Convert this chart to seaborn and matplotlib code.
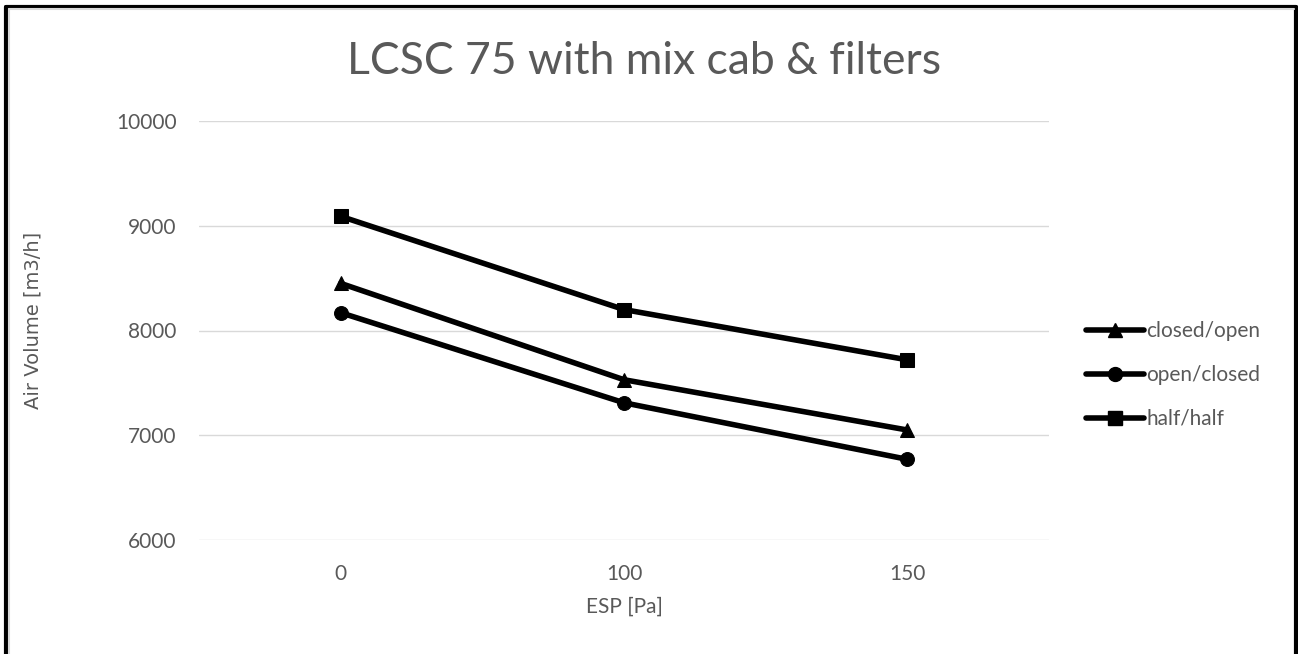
import matplotlib
matplotlib.use("Agg")
import matplotlib.pyplot as plt
import seaborn as sns
import pandas as pd
from matplotlib.lines import Line2D

esp = ["0", "100", "150"]
closed_open = [8450, 7530, 7050]
open_closed = [8170, 7310, 6770]
half_half = [9090, 8200, 7720]
series_names = ["closed/open", "open/closed", "half/half"]
yticks = [6000, 7000, 8000, 9000, 10000]

sns.set_theme(style="white")
plt.rcParams['font.family'] = ['Lato', 'DejaVu Sans']

rows = []
for name, vals in zip(series_names, [closed_open, open_closed, half_half]):
    for x, v in zip(esp, vals):
        rows.append({"ESP": x, "Air": v, "series": name})
df = pd.DataFrame(rows)

fig = plt.figure(figsize=(12.98, 6.54), dpi=100)
ax = fig.add_axes([199/1298, 1-540/654, 850/1298, 419/654])

gray = "#595959"
for y in yticks:
    ax.axhline(y, color="#d9d9d9", lw=1, zorder=0)

sns.lineplot(data=df, x="ESP", y="Air", hue="series", style="series",
             palette=["black"]*3, markers={"closed/open": "^", "open/closed": "o", "half/half": "s"},
             dashes=False, lw=4, markersize=10, markeredgecolor="black",
             ax=ax, legend=False, sort=False)

ax.set_xlim(-0.5, 2.5)
ax.set_ylim(6000, 10000)
ax.set_yticks(yticks)
ax.set_yticklabels([str(t) for t in yticks])
for s in ax.spines.values():
    s.set_visible(False)
ax.tick_params(axis="x", length=0, labelsize=15, colors=gray, pad=17)
ax.tick_params(axis="y", length=0, labelsize=15, colors=gray, pad=16)
ax.set_xlabel("ESP [Pa]", fontsize=15, color=gray)
ax.xaxis.set_label_coords(0.5, -67/419)
ax.xaxis.label.set_va("center")
ax.set_ylabel("Air Volume [m3/h]", fontsize=14, color=gray, family="DejaVu Sans")
ax.yaxis.set_label_coords(-166/850, 220/419)
ax.yaxis.label.set_va("center")

fig.text(644/1298, 1-62/654, "LCSC 75 with mix cab & filters", ha="center", va="center",
         fontsize=32, color=gray)

handles = [Line2D([], [], color="black", lw=4, marker=m, markersize=10)
           for m in ["^", "o", "s"]]
leg = fig.legend(handles, series_names, loc="center left", bbox_to_anchor=(1086/1298, 1-375/654),
                 frameon=False, fontsize=15, handlelength=2.8, handletextpad=0.1,
                 labelspacing=1.15, borderaxespad=0, borderpad=0)
for t in leg.get_texts():
    t.set_color(gray)

# outer border
fig.add_artist(Line2D([5.5/1298, 5.5/1298], [0, 1-6.5/654], color="black", lw=3, transform=fig.transFigure))
fig.add_artist(Line2D([5.5/1298, 1295.5/1298], [1-6.5/654, 1-6.5/654], color="black", lw=3, transform=fig.transFigure))
fig.add_artist(Line2D([1295.5/1298, 1295.5/1298], [0, 1-6.5/654], color="black", lw=3, transform=fig.transFigure))
fig.add_artist(Line2D([8.5/1298, 8.5/1298], [0, 1-9/654], color="#d9d9d9", lw=1.5, transform=fig.transFigure))
fig.add_artist(Line2D([8.5/1298, 1294/1298], [1-9/654, 1-9/654], color="#d9d9d9", lw=1.5, transform=fig.transFigure))

fig.savefig("out.png", dpi=100, facecolor="white")
